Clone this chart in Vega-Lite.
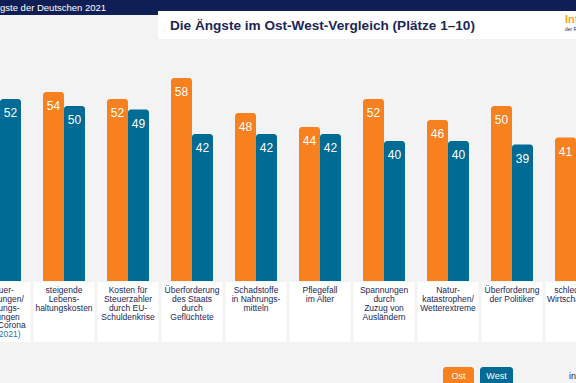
{
  "$schema": "https://vega.github.io/schema/vega-lite/v6.json",
  "width": 576,
  "height": 383,
  "autosize": {"type": "fit", "contains": "padding"},
  "padding": 0,
  "background": "#f3f3f3",
  "config": {"view": {"stroke": null}, "font": "Liberation Sans"},
  "data": {
    "values": [
      {"cat": "Steuer-|erhöhungen/|Leistungs-|kürzungen|durch Corona", "note": "(neu 2021)", "series": "Ost", "value": 44},
      {"cat": "Steuer-|erhöhungen/|Leistungs-|kürzungen|durch Corona", "note": "(neu 2021)", "series": "West", "value": 52},
      {"cat": "steigende|Lebens-|haltungskosten", "series": "Ost", "value": 54},
      {"cat": "steigende|Lebens-|haltungskosten", "series": "West", "value": 50},
      {"cat": "Kosten für|Steuerzahler|durch EU-|Schuldenkrise", "series": "Ost", "value": 52},
      {"cat": "Kosten für|Steuerzahler|durch EU-|Schuldenkrise", "series": "West", "value": 49},
      {"cat": "Überforderung|des Staats|durch|Geflüchtete", "series": "Ost", "value": 58},
      {"cat": "Überforderung|des Staats|durch|Geflüchtete", "series": "West", "value": 42},
      {"cat": "Schadstoffe|in Nahrungs-|mitteln", "series": "Ost", "value": 48},
      {"cat": "Schadstoffe|in Nahrungs-|mitteln", "series": "West", "value": 42},
      {"cat": "Pflegefall|im Alter", "series": "Ost", "value": 44},
      {"cat": "Pflegefall|im Alter", "series": "West", "value": 42},
      {"cat": "Spannungen|durch|Zuzug von|Ausländern", "series": "Ost", "value": 52},
      {"cat": "Spannungen|durch|Zuzug von|Ausländern", "series": "West", "value": 40},
      {"cat": "Natur-|katastrophen/|Wetterextreme", "series": "Ost", "value": 46},
      {"cat": "Natur-|katastrophen/|Wetterextreme", "series": "West", "value": 40},
      {"cat": "Überforderung|der Politiker", "series": "Ost", "value": 50},
      {"cat": "Überforderung|der Politiker", "series": "West", "value": 39},
      {"cat": "schlechtere|Wirtschaftslage", "series": "Ost", "value": 41},
      {"cat": "schlechtere|Wirtschaftslage", "series": "West", "value": 40}
    ]
  },
  "layer": [
    {
      "layer": [
        {
          "transform": [{"filter": {"field": "series", "equal": "Ost"}}],
          "mark": {"type": "bar", "clip": true, "color": "#ffffff", "width": {"band": 1.45}},
          "encoding": {
            "x": {"field": "cat", "type": "nominal", "sort": null, "axis": null,
              "scale": {"domain": ["Steuer-|erhöhungen/|Leistungs-|kürzungen|durch Corona", "steigende|Lebens-|haltungskosten", "Kosten für|Steuerzahler|durch EU-|Schuldenkrise", "Überforderung|des Staats|durch|Geflüchtete", "Schadstoffe|in Nahrungs-|mitteln", "Pflegefall|im Alter", "Spannungen|durch|Zuzug von|Ausländern", "Natur-|katastrophen/|Wetterextreme", "Überforderung|der Politiker", "schlechtere|Wirtschaftslage"], "range": [-32, 608], "paddingInner": 0.344, "paddingOuter": 0.172}},
            "y": {"datum": -0.3, "type": "quantitative", "scale": {"domain": [-29.1, 80.3], "nice": false, "zero": false}, "axis": null},
            "y2": {"datum": -17.4}
          }
        },
        {
          "mark": {"type": "bar", "clip": true, "cornerRadiusTopLeft": 3, "cornerRadiusTopRight": 3},
          "encoding": {
            "x": {"field": "cat", "type": "nominal", "sort": null, "axis": null},
            "xOffset": {"field": "series", "type": "nominal", "sort": ["Ost", "West"], "scale": {"paddingInner": 0, "paddingOuter": 0}},
            "y": {"field": "value", "type": "quantitative", "axis": null},
            "y2": {"datum": 0},
            "color": {"field": "series", "type": "nominal", "scale": {"domain": ["Ost", "West"], "range": ["#F7811E", "#006B94"]}, "legend": null}
          }
        },
        {
          "mark": {"type": "text", "clip": true, "color": "#ffffff", "fontSize": 12, "baseline": "middle", "dy": 14},
          "encoding": {
            "x": {"field": "cat", "type": "nominal", "sort": null, "axis": null},
            "xOffset": {"field": "series", "type": "nominal", "sort": ["Ost", "West"]},
            "y": {"field": "value", "type": "quantitative", "axis": null},
            "text": {"field": "value", "type": "quantitative"}
          }
        },
        {
          "transform": [{"filter": {"field": "series", "equal": "Ost"}}],
          "mark": {"type": "text", "clip": true, "color": "#1C2657", "fontSize": 8.5, "baseline": "top", "align": "center", "lineBreak": "|", "lineHeight": 8.8},
          "encoding": {
            "x": {"field": "cat", "type": "nominal", "sort": null, "axis": null},
            "y": {"datum": -1.43, "type": "quantitative"},
            "text": {"field": "cat", "type": "nominal"}
          }
        },
        {
          "transform": [{"filter": {"field": "series", "equal": "Ost"}}, {"filter": "isValid(datum.note)"}],
          "mark": {"type": "text", "clip": true, "color": "#2477B5", "fontSize": 8.5, "baseline": "top", "align": "center"},
          "encoding": {
            "x": {"field": "cat", "type": "nominal", "sort": null, "axis": null},
            "y": {"datum": -14.0, "type": "quantitative"},
            "text": {"field": "note", "type": "nominal"}
          }
        }
      ]
    },
    {
      "data": {"values": [{}]},
      "layer": [
        {
          "mark": {"type": "rect", "clip": true, "color": "#0F1F55"},
          "encoding": {
            "x": {"datum": 0, "type": "quantitative", "scale": {"domain": [0, 576], "nice": false, "zero": false}, "axis": null},
            "x2": {"datum": 576},
            "y": {"datum": 0, "type": "quantitative", "scale": {"domain": [0, 383], "reverse": true, "nice": false, "zero": false}, "axis": null},
            "y2": {"datum": 15}
          }
        },
        {
          "mark": {"type": "text", "clip": true, "color": "#ffffff", "fontSize": 9.5, "align": "left", "baseline": "middle", "text": "gste der Deutschen 2021"},
          "encoding": {
            "x": {"datum": 0, "type": "quantitative"},
            "y": {"datum": 8, "type": "quantitative"}
          }
        },
        {
          "mark": {"type": "rect", "clip": true, "color": "#ffffff"},
          "encoding": {
            "x": {"datum": 158, "type": "quantitative"},
            "x2": {"datum": 580},
            "y": {"datum": 11, "type": "quantitative"},
            "y2": {"datum": 39}
          }
        },
        {
          "mark": {"type": "text", "clip": true, "color": "#1C2657", "fontSize": 13.6, "fontWeight": "bold", "align": "left", "baseline": "middle", "text": "Die Ängste im Ost-West-Vergleich (Plätze 1–10)"},
          "encoding": {
            "x": {"datum": 170, "type": "quantitative"},
            "y": {"datum": 26, "type": "quantitative"}
          }
        },
        {
          "mark": {"type": "text", "clip": true, "color": "#F5A21B", "fontSize": 11, "fontWeight": "bold", "align": "left", "baseline": "middle", "text": "Infocenter"},
          "encoding": {
            "x": {"datum": 565, "type": "quantitative"},
            "y": {"datum": 20, "type": "quantitative"}
          }
        },
        {
          "mark": {"type": "text", "clip": true, "color": "#1C2657", "fontSize": 5, "align": "left", "baseline": "middle", "text": "der R+V Versicherung"},
          "encoding": {
            "x": {"datum": 565, "type": "quantitative"},
            "y": {"datum": 29, "type": "quantitative"}
          }
        },
        {
          "mark": {"type": "rect", "clip": true, "color": "#F7811E", "cornerRadius": 3},
          "encoding": {
            "x": {"datum": 443, "type": "quantitative"},
            "x2": {"datum": 474},
            "y": {"datum": 367, "type": "quantitative"},
            "y2": {"datum": 392}
          }
        },
        {
          "mark": {"type": "rect", "clip": true, "color": "#006B94", "cornerRadius": 3},
          "encoding": {
            "x": {"datum": 480, "type": "quantitative"},
            "x2": {"datum": 513},
            "y": {"datum": 367, "type": "quantitative"},
            "y2": {"datum": 392}
          }
        },
        {
          "mark": {"type": "text", "clip": true, "color": "#ffffff", "fontSize": 9, "align": "center", "baseline": "middle", "text": "Ost"},
          "encoding": {
            "x": {"datum": 458.5, "type": "quantitative"},
            "y": {"datum": 375.5, "type": "quantitative"}
          }
        },
        {
          "mark": {"type": "text", "clip": true, "color": "#ffffff", "fontSize": 9, "align": "center", "baseline": "middle", "text": "West"},
          "encoding": {
            "x": {"datum": 496.5, "type": "quantitative"},
            "y": {"datum": 375.5, "type": "quantitative"}
          }
        },
        {
          "mark": {"type": "text", "clip": true, "color": "#1C2657", "fontSize": 9, "align": "left", "baseline": "middle", "text": "in Prozent"},
          "encoding": {
            "x": {"datum": 569, "type": "quantitative"},
            "y": {"datum": 376, "type": "quantitative"}
          }
        }
      ]
    }
  ],
  "resolve": {"scale": {"x": "independent", "y": "independent"}}
}
